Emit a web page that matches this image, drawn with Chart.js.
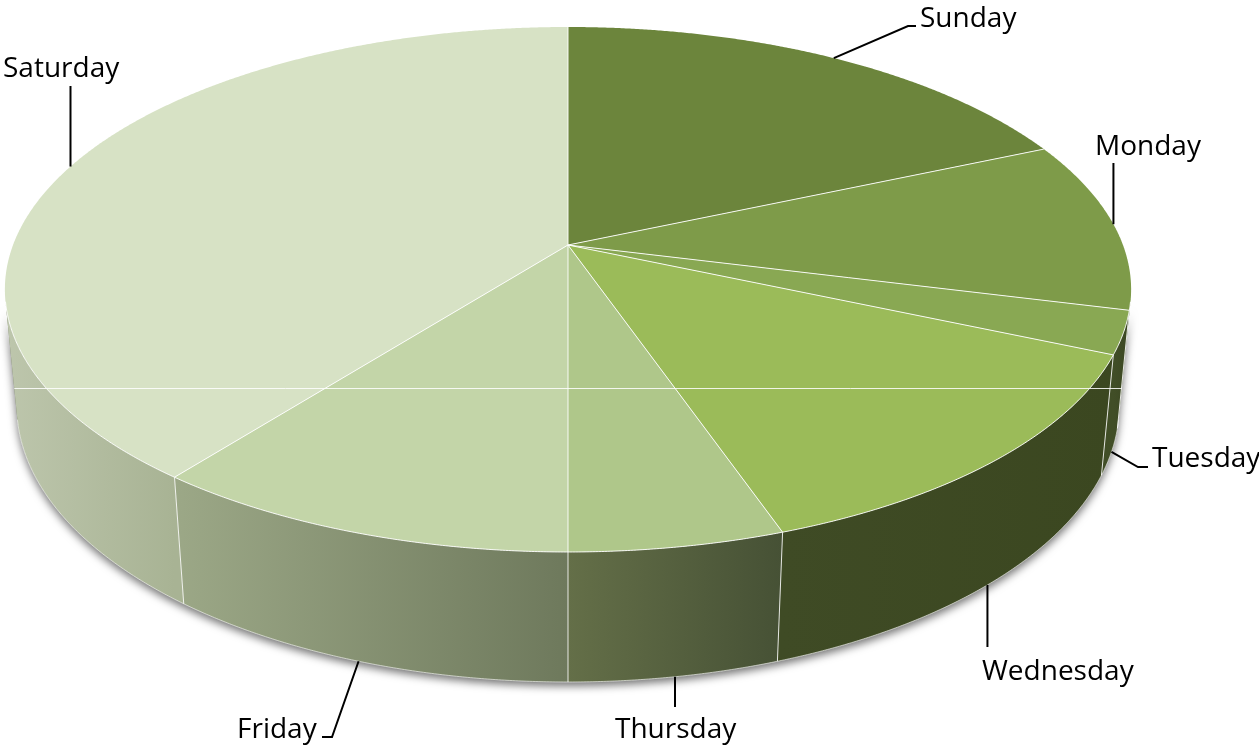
<!DOCTYPE html>
<html>
<head>
<meta charset="utf-8">
<title>Days of the week</title>
<script src="https://cdn.jsdelivr.net/npm/chart.js@4.4.1/dist/chart.umd.min.js"></script>
<style>
  html, body { margin: 0; padding: 0; background: #ffffff; }
  #wrap { width: 1259px; height: 748px; position: relative; }
  canvas { display: block; }
</style>
</head>
<body>
<div id="wrap"><canvas id="pie" width="1259" height="748"></canvas></div>
<script>
// ---- data ----
const days = ['Sunday', 'Monday', 'Tuesday', 'Wednesday', 'Thursday', 'Friday', 'Saturday'];
const counts = [7, 4, 1, 5, 2, 4, 15];

// ---- styling ----
const topColors = ['#6c853c', '#7e9b49', '#89a853', '#9bbb59', '#afc78a', '#c3d5a8', '#d7e2c5'];
const wallLight = ['#556a2e', '#46552a', '#414e27', '#3f4b25', '#646f48', '#9ca887', '#bdc6ac'];
const wallDark  = ['#4a5c28', '#3e4b24', '#3b4722', '#3b4720', '#465135', '#6e795c', '#a8b394'];

// label text anchors (left, baseline) and leader bends; null x keeps the previous x
const labelLayout = [
  { tx: 920,  ty: 27,  path: [[908, 26], [916, 26]] },
  { tx: 1095, ty: 155, path: [[null, 163]] },
  { tx: 1152, ty: 467, path: [[1138, 467], [1148, 467]] },
  { tx: 982,  ty: 680, path: [[null, 647]] },
  { tx: 615,  ty: 738, path: [[null, 707]] },
  { tx: 237,  ty: 738, path: [[332, 737], [322, 737]] },
  { tx: 3,    ty: 77,  path: [[null, 86]] }
];

// ---- perspective camera for the tilted disc ----
const cam = { cx: 568, cy: 245, f: 2908, D: 5.24, sinT: 0.4594, thick: 0.2375 };
cam.cosT = Math.sqrt(1 - cam.sinT * cam.sinT);

// theta: clockwise from the far edge, r: radius 0..1, z: 0 on top, negative below
function proj(theta, r, z) {
  const X = r * Math.sin(theta), Y = r * Math.cos(theta);
  const d = cam.D + Y * cam.cosT - z * cam.sinT;
  return [cam.cx + cam.f * X / d, cam.cy - cam.f * (Y * cam.sinT + z * cam.cosT) / d];
}

// generators of the side wall that bound what the viewer sees
const sil1 = Math.acos(-1 / (cam.D * cam.cosT));
const sil2 = 2 * Math.PI - sil1;
const STEP = Math.PI / 720;

function rimPath(ctx, a, b, z, first) {
  const n = Math.max(1, Math.ceil(Math.abs(b - a) / STEP));
  for (let i = 0; i <= n; i++) {
    const t = a + (b - a) * i / n;
    const p = proj(t, 1, z);
    if (first && i === 0) ctx.moveTo(p[0], p[1]); else ctx.lineTo(p[0], p[1]);
  }
}

function wallShape(ctx, a, b) {
  const h = -cam.thick;
  ctx.beginPath();
  rimPath(ctx, a, b, 0, true);
  rimPath(ctx, b, a, h, false);
  ctx.closePath();
}

const pie3d = {
  id: 'pie3d',
  beforeDatasetsDraw(chart) {
    const ctx = chart.ctx;
    const meta = chart.getDatasetMeta(0);
    const ds = chart.data.datasets[0];
    const slices = meta.data.map((el, i) => ({
      i,
      a: el.startAngle + Math.PI / 2,
      b: el.endAngle + Math.PI / 2
    }));
    const h = -cam.thick;

    ctx.save();
    // soft shadow under the side wall
    ctx.save();
    wallShape(ctx, sil1, sil2);
    ctx.shadowColor = 'rgba(0,0,0,0.55)';
    ctx.shadowBlur = 9;
    ctx.shadowOffsetY = 4;
    ctx.fillStyle = '#7a8466';
    ctx.fill();
    ctx.restore();

    // side wall pieces
    slices.forEach(s => {
      const lo = Math.max(s.a, sil1), hi = Math.min(s.b, sil2);
      if (hi <= lo) return;
      const pl = proj(hi, 1, 0), pr = proj(lo, 1, 0);
      const g = ctx.createLinearGradient(Math.min(pl[0], pr[0]), 0, Math.max(pl[0], pr[0]), 0);
      g.addColorStop(0, wallLight[s.i]);
      g.addColorStop(1, wallDark[s.i]);
      wallShape(ctx, lo, hi);
      ctx.fillStyle = g;
      ctx.fill();
    });

    // light edges on the wall
    ctx.strokeStyle = 'rgba(255,255,255,0.85)';
    ctx.lineWidth = 1;
    slices.forEach(s => {
      if (s.a > sil1 && s.a < sil2) {
        const p = proj(s.a, 1, 0), q = proj(s.a, 1, h);
        ctx.beginPath(); ctx.moveTo(p[0], p[1]); ctx.lineTo(q[0], q[1]); ctx.stroke();
      }
    });
    ctx.beginPath();
    rimPath(ctx, sil1, sil2, h, true);
    ctx.strokeStyle = 'rgba(255,255,255,0.6)';
    ctx.stroke();

    // top faces
    slices.forEach(s => {
      ctx.beginPath();
      ctx.moveTo(cam.cx, cam.cy);
      rimPath(ctx, s.a, s.b, 0, false);
      ctx.closePath();
      ctx.fillStyle = ds.backgroundColor[s.i];
      ctx.fill();
    });
    ctx.strokeStyle = 'rgba(255,255,255,0.9)';
    ctx.lineWidth = 1;
    slices.forEach(s => {
      const p = proj(s.a, 1, 0);
      ctx.beginPath(); ctx.moveTo(cam.cx, cam.cy); ctx.lineTo(p[0], p[1]); ctx.stroke();
    });
    ctx.beginPath();
    rimPath(ctx, sil1, sil2, 0, true);
    ctx.stroke();

    // faint horizontal highlight across the disc
    ctx.save();
    ctx.beginPath();
    rimPath(ctx, 0, 2 * Math.PI, 0, true);
    ctx.closePath();
    rimPath(ctx, sil1, sil2, 0, true);
    rimPath(ctx, sil2, sil1, h, false);
    ctx.closePath();
    ctx.clip('nonzero');
    ctx.strokeStyle = 'rgba(255,255,255,0.85)';
    ctx.beginPath(); ctx.moveTo(0, 388.5); ctx.lineTo(1259, 388.5); ctx.stroke();
    ctx.restore();

    ctx.restore();
    return false;
  },
  afterDraw(chart) {
    const ctx = chart.ctx;
    const meta = chart.getDatasetMeta(0);
    ctx.save();
    ctx.font = '28px "Open Sans", "Noto Sans", sans-serif';
    ctx.fillStyle = '#000000';
    ctx.textBaseline = 'alphabetic';
    ctx.strokeStyle = '#000000';
    ctx.lineWidth = 2;
    meta.data.forEach((el, i) => {
      const mid = (el.startAngle + el.endAngle) / 2 + Math.PI / 2;
      const near = Math.cos(mid) < 0;
      const start = proj(mid, 1, near ? -cam.thick : 0);
      const lay = labelLayout[i];
      ctx.beginPath();
      ctx.moveTo(start[0], start[1]);
      let px = start[0];
      lay.path.forEach(pt => {
        const x = pt[0] === null ? px : pt[0];
        ctx.lineTo(x, pt[1]);
        px = x;
      });
      ctx.stroke();
      ctx.fillText(chart.data.labels[i], lay.tx, lay.ty);
    });
    ctx.restore();
  }
};

new Chart(document.getElementById('pie'), {
  type: 'pie',
  data: {
    labels: days,
    datasets: [{ data: counts, backgroundColor: topColors, borderWidth: 0 }]
  },
  options: {
    responsive: false,
    animation: false,
    devicePixelRatio: 1,
    plugins: { legend: { display: false }, tooltip: { enabled: false } }
  },
  plugins: [pie3d]
});
</script>
</body>
</html>
